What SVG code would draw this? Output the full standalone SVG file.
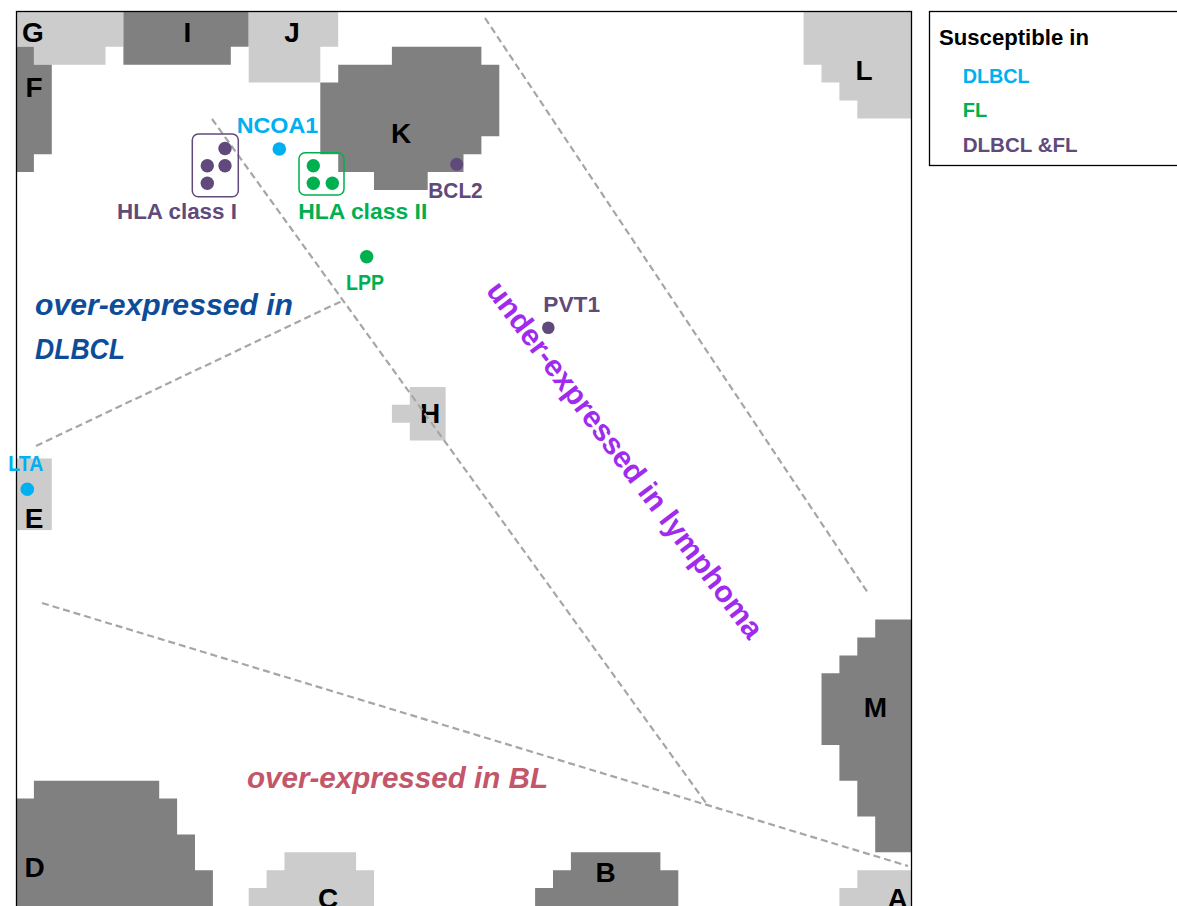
<svg xmlns="http://www.w3.org/2000/svg" width="1177" height="906" viewBox="0 0 1177 906">
<style>
.dk{fill:#808080}
.lt{fill:#cccccc}
.let{font-family:"Liberation Sans",Arial,sans-serif;font-size:28px;font-weight:bold;fill:#000;text-anchor:middle}
.lab{font-family:"Liberation Sans",Arial,sans-serif;font-size:22px;font-weight:bold}
.cy{fill:#00B0F0}
.gr{fill:#00B050}
.pu{fill:#604A7B}
.dash{stroke:#A6A6A6;stroke-width:2.2;stroke-dasharray:7 4;fill:none}
.reg{font-family:"Liberation Sans",Arial,sans-serif;font-size:29px;font-weight:bold;font-style:italic}
</style>
<rect width="1177" height="906" fill="#fff"/>
<g transform="translate(16 11) scale(17.9)">
  <g id="G"><polygon class="lt" points="0,0 6,0 6,2 5,2 5,3 1,3 1,2 0,2"/></g>
  <g id="I"><polygon class="dk" points="6,0 13,0 13,2 12,2 12,3 6,3"/></g>
  <g id="J"><polygon class="lt" points="13,0 18,0 18,2 17,2 17,4 13,4"/></g>
  <g id="F"><polygon class="dk" points="0,2 1,2 1,3 2,3 2,8 1,8 1,9 0,9"/></g>
  <g id="K"><polygon class="dk" points="21,2 26,2 26,3 27,3 27,7 26,7 26,8 25,8 25,9 23,9 23,10 20,10 20,9 18,9 18,8 17,8 17,4 18,4 18,3 21,3"/></g>
  <g id="L"><polygon class="lt" points="44,0 50,0 50,6 47,6 47,5 46,5 46,4 45,4 45,3 44,3"/></g>
  <g id="H"><polygon class="lt" points="22,21 24,21 24,24 22,24 22,23 21,23 21,22 22,22"/></g>
  <g id="E"><rect class="lt" x="0" y="25" width="2" height="4"/></g>
  <g id="M"><polygon class="dk" points="48,34 50,34 50,47 48,47 48,45 47,45 47,43 46,43 46,41 45,41 45,37 46,37 46,36 47,36 47,35 48,35"/></g>
  <g id="A"><polygon class="lt" points="47,48 50,48 50,50 46,50 46,49 47,49"/></g>
  <g id="B"><polygon class="dk" points="31,47 36,47 36,48 37,48 37,50 29,50 29,49 30,49 30,48 31,48"/></g>
  <g id="C"><polygon class="lt" points="15,47 19,47 19,48 20,48 20,50 13,50 13,49 14,49 14,48 15,48"/></g>
  <g id="D"><polygon class="dk" points="1,43 8,43 8,44 9,44 9,46 10,46 10,48 11,48 11,50 0,50 0,44 1,44"/></g>
</g>
<g id="region-letters">
  <text class="let" x="33" y="42">G</text>
  <text class="let" x="187.5" y="42">I</text>
  <text class="let" x="292" y="42">J</text>
  <text class="let" x="34" y="97">F</text>
  <text class="let" x="401" y="143">K</text>
  <text class="let" x="864" y="80">L</text>
  <text class="let" x="430" y="423">H</text>
  <text class="let" x="34" y="528">E</text>
  <text class="let" x="875.5" y="717">M</text>
  <text class="let" x="34.5" y="877">D</text>
  <text class="let" x="605.5" y="882">B</text>
  <text class="let" x="328" y="908">C</text>
  <text class="let" x="897.5" y="908">A</text>
</g>
<rect x="16.5" y="11.5" width="895" height="900" fill="none" stroke="#000" stroke-width="1.3"/>
<g id="connectors">
  <line class="dash" x1="212" y1="119" x2="706" y2="803"/>
  <line class="dash" x1="485" y1="18" x2="868" y2="593"/>
  <line class="dash" x1="36" y1="446" x2="344" y2="300"/>
  <line class="dash" x1="42" y1="603" x2="908" y2="866"/>
</g>
<g id="region-labels">
  <text class="reg" x="35" y="315" fill="#0D4C98" textLength="258" lengthAdjust="spacingAndGlyphs">over-expressed in</text>
  <text class="reg" x="35" y="359" fill="#0D4C98" textLength="90" lengthAdjust="spacingAndGlyphs">DLBCL</text>
  <text class="reg" x="247" y="788" fill="#C4566A" textLength="301" lengthAdjust="spacingAndGlyphs">over-expressed in BL</text>
  <text x="0" y="0" transform="translate(617 466) rotate(53)" text-anchor="middle" font-family="'Liberation Sans',Arial,sans-serif" font-size="30" font-weight="bold" fill="#A02BEF" textLength="438" lengthAdjust="spacingAndGlyphs">under-expressed in lymphoma</text>
</g>
<g id="NCOA1">
  <circle class="cy" cx="279.3" cy="149" r="6.8"/>
  <text class="lab cy" x="236.7" y="133.3" textLength="81.6" lengthAdjust="spacingAndGlyphs">NCOA1</text>
</g>
<g id="HLA-class-I">
  <rect x="192.3" y="134" width="46" height="62.7" rx="6" fill="none" stroke="#604A7B" stroke-width="1.5"/>
  <circle class="pu" cx="225" cy="148.5" r="6.7"/>
  <circle class="pu" cx="207.3" cy="165.7" r="6.7"/>
  <circle class="pu" cx="225" cy="165.7" r="6.7"/>
  <circle class="pu" cx="207.3" cy="183.3" r="6.7"/>
  <text class="lab pu" x="117" y="219.3" textLength="120" lengthAdjust="spacingAndGlyphs">HLA class I</text>
</g>
<g id="HLA-class-II">
  <rect x="299" y="152.7" width="45" height="42.3" rx="6" fill="none" stroke="#00B050" stroke-width="1.5"/>
  <circle class="gr" cx="313.3" cy="165.7" r="6.7"/>
  <circle class="gr" cx="313.3" cy="183.3" r="6.7"/>
  <circle class="gr" cx="332.3" cy="183.3" r="6.7"/>
  <text class="lab gr" x="298.3" y="219.3" textLength="129" lengthAdjust="spacingAndGlyphs">HLA class II</text>
</g>
<g id="LPP">
  <circle class="gr" cx="366.7" cy="256.7" r="6.7"/>
  <text class="lab gr" x="346" y="290" textLength="38" lengthAdjust="spacingAndGlyphs">LPP</text>
</g>
<g id="BCL2">
  <circle class="pu" cx="456.7" cy="164.3" r="6.5"/>
  <text class="lab pu" x="428.3" y="198.3" textLength="54.4" lengthAdjust="spacingAndGlyphs">BCL2</text>
</g>
<g id="PVT1">
  <circle class="pu" cx="548.3" cy="327.7" r="6.3"/>
  <text class="lab pu" x="543.3" y="311.7" textLength="56.7" lengthAdjust="spacingAndGlyphs">PVT1</text>
</g>
<g id="LTA">
  <circle class="cy" cx="27.3" cy="489.3" r="6.8"/>
  <text class="lab cy" x="8.3" y="470.7" textLength="35" lengthAdjust="spacingAndGlyphs">LTA</text>
</g>
<g id="legend">
  <rect x="929.5" y="11.5" width="260" height="154" fill="#fff" stroke="#000" stroke-width="1.3"/>
  <text x="939" y="45" font-family="'Liberation Sans',Arial,sans-serif" font-size="22" font-weight="bold" fill="#000" textLength="150" lengthAdjust="spacingAndGlyphs">Susceptible in</text>
  <text class="cy" x="962.7" y="83.3" font-family="'Liberation Sans',Arial,sans-serif" font-size="20" font-weight="bold" textLength="67" lengthAdjust="spacingAndGlyphs">DLBCL</text>
  <text class="gr" x="962.7" y="117.3" font-family="'Liberation Sans',Arial,sans-serif" font-size="20" font-weight="bold">FL</text>
  <text class="pu" x="962.7" y="151.7" font-family="'Liberation Sans',Arial,sans-serif" font-size="20" font-weight="bold" textLength="115" lengthAdjust="spacingAndGlyphs">DLBCL &amp;FL</text>
</g>
</svg>
